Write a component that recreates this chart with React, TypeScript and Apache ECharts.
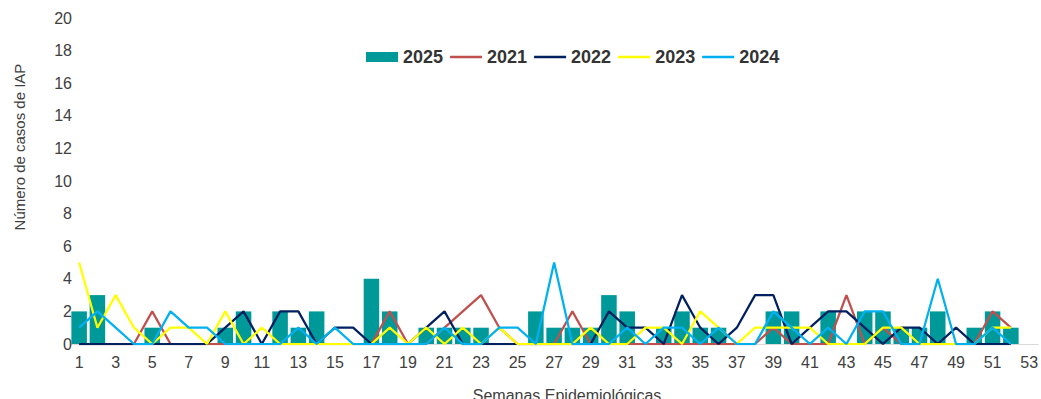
import React, { useEffect, useRef } from "react";
import * as echarts from "echarts";

const weeks: string[] = Array.from({ length: 53 }, (_, i) => String(i + 1));

const cases2025: number[] = [2, 3, 0, 0, 1, 0, 0, 0, 1, 2, 0, 2, 1, 2, 0, 0, 4, 2, 0, 1, 1, 1, 1, 0, 0, 2, 1, 1, 1, 3, 2, 0, 1, 2, 1, 1, 0, 0, 2, 2, 0, 2, 0, 2, 2, 1, 1, 2, 0, 1, 2, 1];
const cases2021: number[] = [0, 0, 0, 0, 2, 0, 0, 0, 0, 0, 0, 0, 0, 0, 0, 0, 0, 2, 0, 0, 1, 2, 3, 1, 0, 0, 0, 2, 0, 0, 0, 0, 0, 0, 0, 0, 0, 0, 1, 0, 0, 0, 3, 0, 1, 0, 0, 0, 0, 0, 2, 1];
const cases2022: number[] = [0, 0, 0, 0, 0, 0, 0, 0, 1, 2, 0, 2, 2, 0, 1, 1, 0, 0, 0, 1, 2, 0, 0, 0, 0, 0, 0, 0, 0, 2, 1, 1, 0, 3, 1, 0, 1, 3, 3, 0, 1, 2, 2, 1, 0, 1, 1, 0, 1, 0, 0, 0];
const cases2023: number[] = [5, 1, 3, 1, 0, 1, 1, 0, 2, 0, 1, 0, 0, 0, 0, 0, 0, 1, 0, 1, 0, 1, 0, 1, 0, 0, 0, 0, 1, 0, 0, 1, 1, 0, 2, 1, 0, 1, 1, 1, 1, 0, 0, 0, 1, 1, 0, 0, 0, 0, 1, 1];
const cases2024: number[] = [1, 2, 1, 0, 0, 2, 1, 1, 0, 0, 0, 0, 1, 0, 1, 0, 0, 0, 0, 0, 1, 0, 0, 1, 1, 0, 5, 0, 0, 0, 1, 0, 1, 1, 0, 1, 0, 0, 2, 1, 0, 1, 0, 2, 2, 0, 0, 4, 0, 0, 1, 0];

const FONT = "Liberation Sans, Arial, sans-serif";
const LINE_ICON = "path://M0,0H32V2.5H0Z";

export default function App() {
  const ref = useRef<HTMLDivElement>(null);
  useEffect(() => {
    if (!ref.current) return;
    const chart = echarts.init(ref.current, undefined, { renderer: "svg" });
    const lineSeries = (name: string, data: number[], color: string) => ({
      name,
      type: "line",
      data,
      symbol: "none",
      lineStyle: { color, width: 2.25 },
      itemStyle: { color },
    });
    chart.setOption({
      animation: false,
      backgroundColor: "#ffffff",
      textStyle: { fontFamily: FONT },
      grid: { left: 70, right: 1, top: 18, bottom: 55, containLabel: false },
      legend: {
        top: 43,
        left: 361,
        itemWidth: 32,
        itemHeight: 10,
        itemGap: 7,
        symbolKeepAspect: true,
        textStyle: { fontSize: 18, fontWeight: "bold", color: "#333333", fontFamily: FONT },
        data: [
          { name: "2025", icon: "rect" },
          { name: "2021", icon: LINE_ICON },
          { name: "2022", icon: LINE_ICON },
          { name: "2023", icon: LINE_ICON },
          { name: "2024", icon: LINE_ICON },
        ],
      },
      xAxis: {
        type: "category",
        data: weeks,
        boundaryGap: true,
        axisTick: { show: false },
        axisLine: { show: true, lineStyle: { color: "#D9D9D9", width: 1 } },
        axisLabel: { interval: 1, fontSize: 16, color: "#404040", margin: 10, fontFamily: FONT },
        splitLine: { show: false },
      },
      yAxis: {
        type: "value",
        min: 0,
        max: 20,
        interval: 2,
        axisLine: { show: false },
        axisTick: { show: false },
        splitLine: { show: false },
        axisLabel: { fontSize: 16, color: "#404040", margin: -2, fontFamily: FONT },
      },
      graphic: [
        {
          type: "text",
          x: 19,
          y: 147,
          rotation: Math.PI / 2,
          style: {
            text: "Número de casos de IAP",
            fontSize: 15,
            fontFamily: FONT,
            fill: "#404040",
            align: "center",
            verticalAlign: "middle",
          },
        },
        {
          type: "text",
          x: 567,
          y: 395,
          style: {
            text: "Semanas Epidemiológicas",
            fontSize: 16,
            fontFamily: FONT,
            fill: "#404040",
            align: "center",
            verticalAlign: "middle",
          },
        },
      ],
      series: [
        {
          name: "2025",
          type: "bar",
          data: cases2025,
          barCategoryGap: "15%",
          itemStyle: { color: "#009999" },
        },
        lineSeries("2021", cases2021, "#C0504D"),
        lineSeries("2022", cases2022, "#002060"),
        lineSeries("2023", cases2023, "#FFFF00"),
        lineSeries("2024", cases2024, "#00B0F0"),
      ],
    });
    return () => chart.dispose();
  }, []);
  return (
    <div
      ref={ref}
      style={{ position: "fixed", left: 0, top: 0, width: 1041, height: 399 }}
    />
  );
}
